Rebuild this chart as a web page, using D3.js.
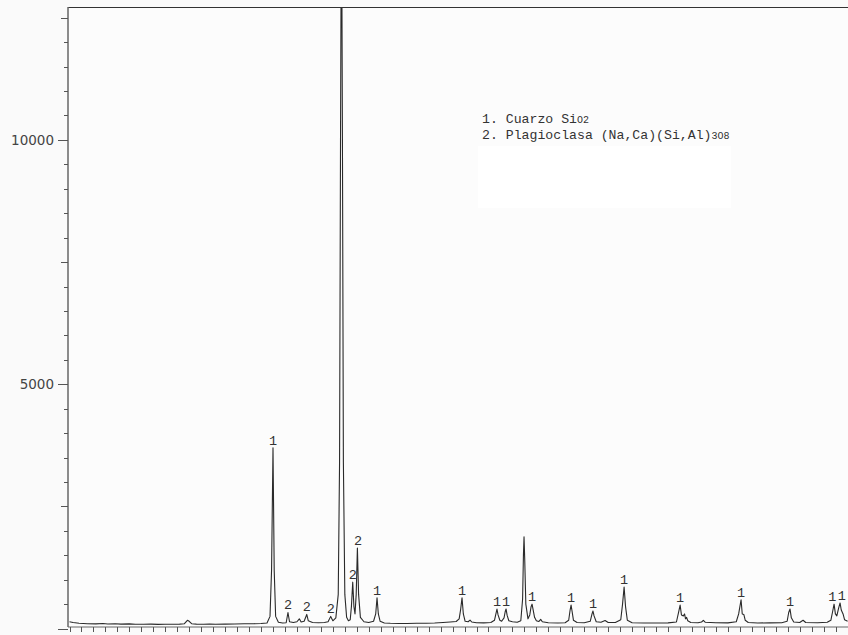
<!DOCTYPE html>
<html><head><meta charset="utf-8">
<script src="https://cdn.jsdelivr.net/npm/d3@7"></script>
<style>
html,body{margin:0;padding:0;background:#fafafa;}
svg{display:block;}
</style></head>
<body><svg id="c" width="848" height="635"></svg>
<script>
// ---- data (2θ in degrees, intensity in counts) ----
const twoTheta = [4.0,4.3,4.8,5.5,6.2,6.8,7.2,7.8,8.3,9.0,9.5,10.2,10.8,11.4,12.0,12.6,13.2,13.6,13.85,14.0,14.2,14.6,15.2,15.7,16.2,17.0,17.8,18.6,19.4,20.0,20.5,20.75,20.88,21.0,21.1,21.22,21.45,21.8,22.1,22.25,22.38,22.7,23.0,23.2,23.35,23.6,23.82,23.95,24.3,24.8,25.3,25.6,25.82,26.0,26.25,26.45,26.56,26.64,26.72,26.8,26.88,27.0,27.15,27.3,27.45,27.55,27.66,27.76,27.85,27.95,28.05,28.15,28.3,28.6,29.0,29.4,29.58,29.69,29.8,29.95,30.3,30.8,31.5,32.2,33.0,33.8,34.5,35.2,35.8,36.3,36.55,36.68,36.79,36.9,37.05,37.3,37.46,37.6,38.0,38.6,39.2,39.5,39.62,39.71,39.8,39.95,40.1,40.3,40.4,40.47,40.56,40.7,41.0,41.4,41.7,41.85,41.92,41.97,42.03,42.12,42.3,42.45,42.56,42.64,42.72,42.85,43.0,43.2,43.36,43.5,44.0,44.8,45.4,45.7,45.82,45.9,45.98,46.1,46.4,47.0,47.5,47.65,47.73,47.82,48.0,48.4,48.74,49.0,49.6,50.05,50.2,50.33,50.45,50.6,51.0,52.0,53.0,54.0,54.7,54.88,55.01,55.12,55.28,55.38,55.46,55.55,55.65,55.9,56.5,56.8,56.95,57.1,58.0,59.0,59.7,59.9,60.1,60.2,60.33,60.45,60.7,61.5,62.5,63.5,63.95,64.08,64.19,64.3,64.5,65.0,65.28,65.5,66.5,67.3,67.6,67.75,67.87,67.98,68.1,68.25,68.37,68.47,68.62,68.75,69.0];
const counts = [140,125,110,100,96,104,95,100,92,96,90,88,92,86,90,88,92,100,170,150,100,92,90,95,90,92,95,98,100,105,115,250,1200,3700,1200,250,130,115,120,330,140,125,140,200,135,150,290,160,125,120,125,140,250,160,220,700,3400,10000,15500,10000,3400,700,230,160,180,450,950,450,300,700,1650,700,230,140,125,150,300,630,300,150,115,108,105,105,108,110,115,125,135,145,200,400,630,300,150,140,175,135,120,118,125,170,300,400,280,170,150,220,350,400,270,160,140,130,160,600,1500,1880,1400,500,200,280,450,500,400,230,160,145,190,140,120,115,120,170,380,480,360,170,125,120,150,300,360,260,140,130,165,125,125,180,500,850,450,170,120,115,115,118,135,330,480,280,260,300,200,230,160,125,120,135,170,130,120,118,140,300,590,300,290,170,125,115,118,120,150,330,400,220,135,125,170,125,120,130,170,350,500,300,260,420,525,380,300,180,150];

const peakPos    = [21.0,22.25,23.82,25.82,27.66,28.1,29.69,36.79,39.71,40.47,42.64,45.9,47.73,50.33,55.01,60.1,64.19,67.87,68.37];
const peakPhase  = ["1","2","2","2","2","2","1","1","1","1","1","1","1","1","1","1","1","1","1"];
const peakHeight = [3700,330,290,250,950,1650,630,630,400,400,500,480,360,850,480,590,400,500,525];

const yTicks = d3.range(0, 12501, 500);
const yLabels = [5000, 10000];
const xTicks = d3.range(4, 70, 1);
const legendLines = ["1. Cuarzo Si", "2. Plagioclasa (Na,Ca)(Si,Al)"];
const legendSubs = ["O2", "3O8"];

// ---- layout ----
const svg = d3.select("#c");
const L = 68, R = 848, T = 7, B = 627;
const x = d3.scaleLinear().domain([4, 69]).range([69.5, 847.6]);
const y = d3.scaleLinear().domain([0, 12720]).range([628.6, 7]);

svg.append("rect").attr("x",0).attr("y",0).attr("width",848).attr("height",635).attr("fill","#fafafa");
svg.append("rect").attr("x",L).attr("y",T).attr("width",R-L).attr("height",B-T).attr("fill","#fcfcfc");
// white box under legend
svg.append("rect").attr("x",478).attr("y",146).attr("width",253).attr("height",62).attr("fill","#ffffff");

svg.append("clipPath").attr("id","clip").append("rect")
  .attr("x",L).attr("y",T).attr("width",R-L).attr("height",B-T);

const data = twoTheta.map((t,i)=>[t,counts[i]]);
const line = d3.line().x(d=>x(d[0])).y(d=>y(d[1]));
svg.append("path").datum(data).attr("clip-path","url(#clip)")
  .attr("d",line).attr("fill","none").attr("stroke","#2a2a2a").attr("stroke-width",1.1)
  .attr("stroke-linejoin","round");

// axes frame
const axisCol = "#666";
svg.append("line").attr("x1",L).attr("x2",R).attr("y1",T+0.5).attr("y2",T+0.5).attr("stroke","#333").attr("stroke-width",1);
svg.append("line").attr("x1",L).attr("x2",L).attr("y1",T).attr("y2",B).attr("stroke",axisCol).attr("stroke-width",1.5);
svg.append("line").attr("x1",L).attr("x2",R).attr("y1",B).attr("y2",B).attr("stroke",axisCol).attr("stroke-width",1.2);

// y ticks
svg.append("g").selectAll("line").data(yTicks).join("line")
  .attr("x1",d=> d%5000===0 ? L-10 : (d%2500===0 ? L-7 : L-4))
  .attr("x2",L).attr("y1",d=>Math.round(y(d))+0.5).attr("y2",d=>Math.round(y(d))+0.5)
  .attr("stroke","#555").attr("stroke-width",1);
svg.append("g").selectAll("text").data(yLabels).join("text")
  .attr("x",L-14).attr("y",d=>y(d)).attr("dy","0.36em").attr("text-anchor","end")
  .attr("font-family","DejaVu Sans, sans-serif").attr("font-size",13.5).attr("fill","#444")
  .text(d=>d);

// x ticks
svg.append("g").selectAll("line").data(xTicks).join("line")
  .attr("x1",d=>Math.round(x(d))+0.5).attr("x2",d=>Math.round(x(d))+0.5)
  .attr("y1",B).attr("y2",B+5).attr("stroke","#555").attr("stroke-width",1);

// peak labels (nudge labels of very close peaks of similar height apart so they do not collide)
const close = (i,j) => j>=0 && j<peakPos.length &&
  Math.abs(x(peakPos[i])-x(peakPos[j])) < 9 &&
  Math.abs(y(peakHeight[i])-y(peakHeight[j])) < 12;
const nudge = peakPos.map((p,i)=> close(i,i+1) ? -1.8 : (close(i,i-1) ? 1.8 : 0));
svg.append("g").selectAll("text").data(peakPos).join("text")
  .attr("x",(d,i)=>x(d)+nudge[i]).attr("y",(d,i)=>y(peakHeight[i])-3)
  .attr("text-anchor","middle").attr("font-family","Liberation Mono, monospace")
  .attr("font-size",13.5).attr("fill","#333")
  .text((d,i)=>peakPhase[i]);

// legend
const lg = svg.append("g").attr("font-family","Liberation Mono, monospace").attr("fill","#333");
legendLines.forEach((s,i)=>{
  const t = lg.append("text").attr("x",482).attr("y",123+i*15.5).attr("font-size",13.2);
  t.append("tspan").text(s);
  t.append("tspan").attr("font-size",10).text(legendSubs[i]);
});
</script></body></html>
